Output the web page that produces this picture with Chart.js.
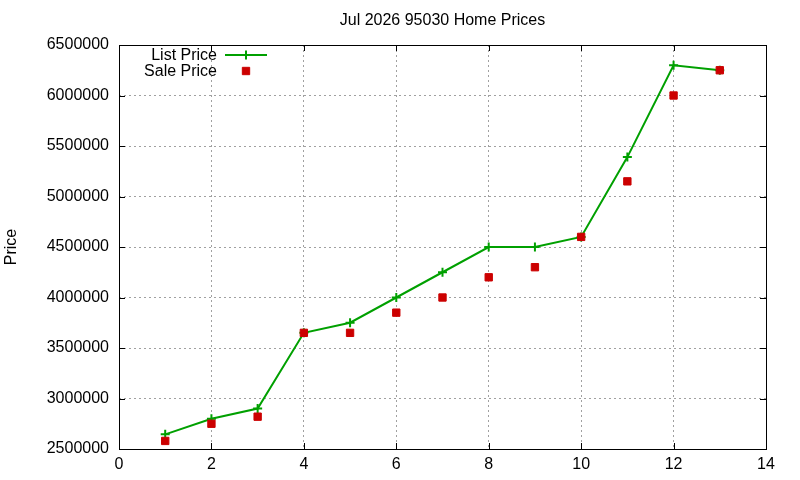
<!DOCTYPE html>
<html>
<head>
<meta charset="utf-8">
<title>Jul 2026 95030 Home Prices</title>
<script src="https://cdn.jsdelivr.net/npm/chart.js@4.4.0/dist/chart.umd.min.js"></script>
<style>
  html, body { margin: 0; padding: 0; background: #fff; }
  canvas { display: block; }
</style>
</head>
<body>
<canvas id="chart" width="800" height="480"></canvas>
<script>
// gnuplot-style line + scatter: list vs sale price per month

const months = [1, 2, 3, 4, 5, 6, 7, 8, 9, 10, 11, 12, 13]
const listPrice = [2645000, 2800000, 2900000, 3650000, 3750000, 4000000, 4250000, 4500000, 4500000, 4600000, 5390000, 6300000, 6250000]
const salePrice = [2580000, 2750000, 2820000, 3650000, 3650000, 3850000, 4000000, 4200000, 4300000, 4600000, 5150000, 6000000, 6250000]
const xTicks = [0, 2, 4, 6, 8, 10, 12, 14]
const yTicks = [2500000, 3000000, 3500000, 4000000, 4500000, 5000000, 5500000, 6000000, 6500000]
const chartTitle = "Jul 2026 95030 Home Prices"

const FONT = "'Liberation Sans', Arial, sans-serif"
const GREEN = "#00a000"
const RED = "#cc0000"

// title centred over the plot area (not the whole canvas), like gnuplot
const titlePlugin = {
  id: "plotTitle",
  afterDraw(chart) {
    const { ctx, chartArea: a } = chart
    ctx.save()
    ctx.font = "16px " + FONT
    ctx.fillStyle = "#000"
    ctx.textAlign = "center"
    ctx.textBaseline = "middle"
    ctx.fillText(chartTitle, (a.left + a.right) / 2, 21)
    ctx.restore()
  },
}

// solid frame with inward ticks on all four sides, like gnuplot's border + mirror
const framePlugin = {
  id: "frame",
  beforeDatasetsDraw(chart) {
    const { ctx, chartArea: a, scales } = chart
    const len = 6
    ctx.save()
    ctx.strokeStyle = "#000"
    ctx.lineWidth = 1
    ctx.beginPath()
    for (const v of xTicks) {
      const px = Math.round(scales.x.getPixelForValue(v)) + 0.5
      ctx.moveTo(px, a.bottom); ctx.lineTo(px, a.bottom - len)
      ctx.moveTo(px, a.top); ctx.lineTo(px, a.top + len)
    }
    for (const v of yTicks) {
      const py = Math.round(scales.y.getPixelForValue(v)) + 0.5
      ctx.moveTo(a.left, py); ctx.lineTo(a.left + len, py)
      ctx.moveTo(a.right, py); ctx.lineTo(a.right - len, py)
    }
    ctx.stroke()
    ctx.strokeRect(Math.round(a.left) + 0.5, Math.round(a.top) + 0.5,
      Math.round(a.right - a.left), Math.round(a.bottom - a.top))
    ctx.restore()
  },
}

// key in the top-left corner: right-aligned labels, sample to the right
const keyPlugin = {
  id: "key",
  afterDatasetsDraw(chart) {
    const { ctx } = chart
    const textRight = 217
    const sampleLeft = 225, sampleRight = 267
    const mid = (sampleLeft + sampleRight) / 2
    const rows = [55, 71]
    ctx.save()
    chart.data.datasets.slice().sort((p, q) => p.keyRow - q.keyRow).forEach((ds, i) => {
      const y = rows[i]
      ctx.font = "16px " + FONT
      ctx.fillStyle = "#000"
      ctx.textAlign = "right"
      ctx.textBaseline = "middle"
      ctx.fillText(ds.label, textRight, y + 1)
      if (ds.showLine !== false) {
        ctx.strokeStyle = ds.borderColor
        ctx.lineWidth = ds.borderWidth
        ctx.beginPath()
        ctx.moveTo(sampleLeft, y); ctx.lineTo(sampleRight, y)
        ctx.stroke()
      }
      ctx.fillStyle = ds.pointBackgroundColor
      ctx.strokeStyle = ds.pointBorderColor
      ctx.lineWidth = ds.pointBorderWidth
      Chart.helpers.drawPoint(ctx, {
        pointStyle: ds.pointStyle,
        radius: ds.pointRadius,
        borderWidth: ds.pointBorderWidth,
        rotation: 0,
      }, mid, y)
    })
    ctx.restore()
  },
}

new Chart(document.getElementById("chart"), {
  type: "line",
  data: {
    datasets: [
      {
        label: "List Price",
        keyRow: 0,
        order: 2,
        data: months.map((m, i) => ({ x: m, y: listPrice[i] })),
        borderColor: GREEN,
        borderWidth: 2,
        tension: 0,
        pointStyle: "cross",
        pointRadius: 4.5,
        pointBorderWidth: 2,
        pointBorderColor: GREEN,
        pointBackgroundColor: GREEN,
      },
      {
        label: "Sale Price",
        keyRow: 1,
        order: 1,
        data: months.map((m, i) => ({ x: m, y: salePrice[i] })),
        showLine: false,
        borderColor: RED,
        borderWidth: 1,
        pointStyle: "rect",
        pointRadius: 5.2,
        pointBorderWidth: 1,
        pointBorderColor: RED,
        pointBackgroundColor: RED,
      },
    ],
  },
  options: {
    responsive: false,
    animation: false,
    layout: { padding: { left: 0, right: 34, top: 45, bottom: 0 } },
    plugins: {
      legend: { display: false },
      tooltip: { enabled: false },
      title: { display: false },
    },
    scales: {
      x: {
        type: "linear",
        min: 0,
        max: 14,
        afterFit: (s) => { s.height = 31 },
        afterBuildTicks: (s) => { s.ticks = xTicks.map(v => ({ value: v })) },
        ticks: {
          color: "#000",
          font: { family: FONT, size: 16 },
          padding: 6,
          maxRotation: 0,
          autoSkip: false,
        },
        grid: {
          color: "#a0a0a0",
          lineWidth: 1,
          drawTicks: false,
        },
        border: { display: false, dash: [2, 3] },
      },
      y: {
        min: 2500000,
        max: 6500000,
        afterFit: (s) => { s.width = 119 },
        afterBuildTicks: (s) => { s.ticks = yTicks.map(v => ({ value: v })) },
        ticks: {
          color: "#000",
          font: { family: FONT, size: 16 },
          padding: 10,
          autoSkip: false,
          callback: (v) => String(v),
        },
        grid: {
          color: "#a0a0a0",
          lineWidth: 1,
          drawTicks: false,
        },
        border: { display: false, dash: [2, 3] },
        title: {
          display: true,
          text: "Price",
          color: "#000",
          font: { family: FONT, size: 16 },
          padding: { top: 2, bottom: 0 },
        },
      },
    },
  },
  plugins: [framePlugin, keyPlugin, titlePlugin],
})
</script>
</body>
</html>
